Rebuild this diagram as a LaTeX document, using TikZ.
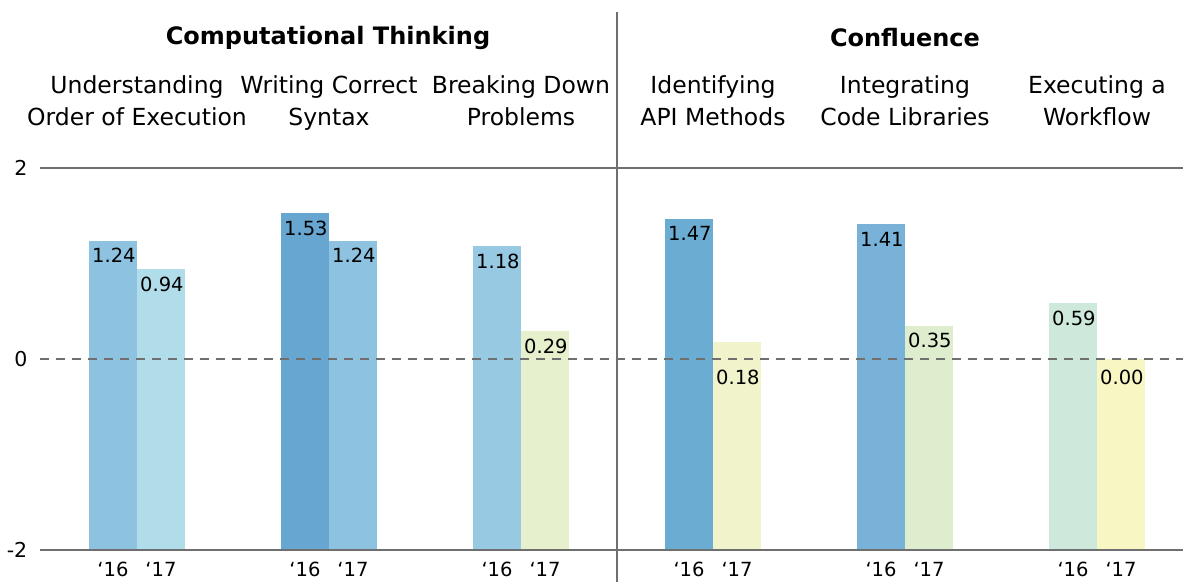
\documentclass[tikz,border=0pt]{standalone}
\usepackage{fontspec}
\setmainfont{DejaVu Sans}

\definecolor{axisgray}{HTML}{6F6F6F}
\definecolor{barA}{HTML}{8DC3E0}
\definecolor{barB}{HTML}{B1DDEA}
\definecolor{barC}{HTML}{66A6D0}
\definecolor{barD}{HTML}{97C9E2}
\definecolor{barE}{HTML}{E6F0CC}
\definecolor{barF}{HTML}{6BACD3}
\definecolor{barG}{HTML}{F1F4CA}
\definecolor{barH}{HTML}{78B2D8}
\definecolor{barI}{HTML}{DFEDCF}
\definecolor{barJ}{HTML}{CEE9DB}
\definecolor{barK}{HTML}{F8F6C2}

\begin{document}
\begin{tikzpicture}[%
      x=1pt,y=1pt,
      axisline/.style={draw=axisgray,line width=2.5pt},
      zeroline/.style={draw=axisgray,line width=2.5pt,dash pattern=on 9pt off 7pt},
      grouptitle/.style={font=\fontsize{24}{28}\selectfont\bfseries,inner sep=0pt},
      catlabel/.style={align=center,font=\fontsize{23.5}{32}\selectfont,inner sep=0pt},
      vallabel/.style={font=\fontsize{19.5}{22}\selectfont,inner sep=2pt,anchor=north west},
      ticklabel/.style={font=\fontsize{20.5}{22}\selectfont,inner sep=0pt},
      yearlabel/.style={font=\fontsize{19.5}{22}\selectfont,inner sep=0pt},
      ]
      \useasboundingbox (0,0) rectangle (1183,582);

      % bars, from -2 up to the value
      \begin{scope}[yshift=223pt,y=95.5pt]
      \foreach \xl/\val/\col/\ly [count=\i] in {
          89/1.24/barA/1.18, 137/0.94/barB/0.88,
          281/1.53/barC/1.47, 329/1.24/barA/1.18,
          473/1.18/barD/1.12, 521/0.29/barE/0.23,
          665/1.47/barF/1.41, 713/0.18/barG/-0.09,
          857/1.41/barH/1.35, 905/0.35/barI/0.29,
          1049/0.59/barJ/0.53, 1097/0.00/barK/-0.09}
      {
        \fill [\col] (\xl,-2) rectangle (\xl+48,\val);
        \node [vallabel] (v\i) at (\xl+1,\ly) {\val};
      }
      \end{scope}

      % axes
      \draw [axisline] (40,414) -- (1183,414);
      \draw [axisline] (40,32) -- (1183,32);
      \draw [zeroline] (40,223) -- (1183,223);
      \draw [axisline] (617,0) -- (617,570);

      \node [ticklabel] (ytop) at (21,414) {2};
      \node [ticklabel] (ymid) at (21,223) {0};
      \node [ticklabel] (ybot) at (17,32) {-2};

      % headings
      \node [grouptitle] (ct) at (328,544) {Computational Thinking};
      \node [grouptitle] (cf) at (905,544) {Confluence};

      \node [catlabel] (c1) at (137,479) {\strut Understanding\\\strut Order of Execution};
      \node [catlabel] (c2) at (329,479) {\strut Writing Correct\\\strut Syntax};
      \node [catlabel] (c3) at (521,479) {\strut Breaking Down\\\strut Problems};
      \node [catlabel] (c4) at (713,479) {\strut Identifying\\\strut API Methods};
      \node [catlabel] (c5) at (905,479) {\strut Integrating\\\strut Code Libraries};
      \node [catlabel] (c6) at (1097,479) {\strut Executing a\\\strut Workflow};

      % years
      \foreach \cx [count=\i] in {137,329,521,713,905,1097}
      {
        \node [yearlabel] (a\i) at (\cx-24,13) {‘16};
        \node [yearlabel] (b\i) at (\cx+24,13) {‘17};
      }
      \end{tikzpicture}
\end{document}
